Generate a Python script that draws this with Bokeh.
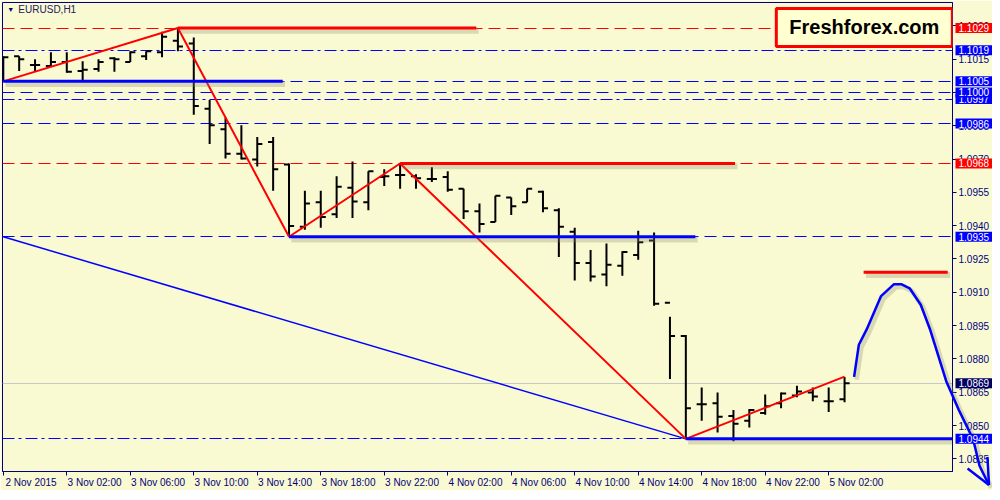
from bokeh.plotting import figure
from bokeh.models import ColumnDataSource, FixedTicker, Label
from bokeh.transform import dodge
from bokeh.embed import file_html
from bokeh.resources import INLINE

# EURUSD H1 bars (bar number, one bar per hour)
bar_x = list(range(54))
bar_open = [1.10106, 1.10163, 1.10124, 1.10119, 1.10137, 1.10097, 1.10106, 1.10154, 1.10137, 1.10163,
            1.10181, 1.10233, 1.10220, 1.09926, 1.09834, 1.09724, 1.09698, 1.09777, 1.09676, 1.09395,
            1.09505, 1.09452, 1.09571, 1.09505, 1.09619, 1.09628, 1.09623, 1.09610, 1.09619, 1.09566,
            1.09465, 1.09417, 1.09527, 1.09505, 1.09553, 1.09470, 1.09373, 1.09232, 1.09180, 1.09219,
            1.09268, 1.09333, 1.09053, 1.08903, 1.08596, 1.08600, 1.08543, 1.08521, 1.08556, 1.08600,
            1.08635, 1.08649, 1.08609, 1.08618]
bar_high = [1.10163, 1.10163, 1.10150, 1.10181, 1.10181, 1.10141, 1.10150, 1.10159, 1.10185, 1.10185,
            1.10273, 1.10290, 1.10247, 1.09966, 1.09887, 1.09852, 1.09799, 1.09799, 1.09680, 1.09557,
            1.09557, 1.09623, 1.09689, 1.09645, 1.09654, 1.09680, 1.09632, 1.09663, 1.09645, 1.09566,
            1.09500, 1.09535, 1.09527, 1.09566, 1.09557, 1.09478, 1.09391, 1.09290, 1.09320, 1.09285,
            1.09377, 1.09369, 1.08990, 1.08908, 1.08671, 1.08649, 1.08570, 1.08574, 1.08640, 1.08649,
            1.08679, 1.08671, 1.08671, 1.08719]
bar_low = [1.10049, 1.10097, 1.10093, 1.10115, 1.10089, 1.10053, 1.10093, 1.10093, 1.10137, 1.10146,
           1.10159, 1.10185, 1.09900, 1.09768, 1.09702, 1.09698, 1.09667, 1.09557, 1.09350, 1.09382,
           1.09391, 1.09434, 1.09434, 1.09470, 1.09579, 1.09566, 1.09566, 1.09597, 1.09553, 1.09430,
           1.09369, 1.09417, 1.09448, 1.09505, 1.09461, 1.09259, 1.09153, 1.09149, 1.09127, 1.09175,
           1.09246, 1.09039, 1.08710, 1.08440, 1.08521, 1.08469, 1.08429, 1.08491, 1.08548, 1.08578,
           1.08627, 1.08609, 1.08561, 1.08605]
bar_close = [1.10159, 1.10150, 1.10124, 1.10137, 1.10093, 1.10102, 1.10137, 1.10150, 1.10181, 1.10185,
             1.10251, 1.10207, 1.09939, 1.09852, 1.09724, 1.09702, 1.09768, 1.09654, 1.09399, 1.09500,
             1.09439, 1.09575, 1.09509, 1.09645, 1.09623, 1.09628, 1.09614, 1.09610, 1.09562, 1.09465,
             1.09408, 1.09535, 1.09487, 1.09566, 1.09478, 1.09395, 1.09232, 1.09171, 1.09224, 1.09281,
             1.09325, 1.09048, 1.08903, 1.08578, 1.08596, 1.08539, 1.08508, 1.08570, 1.08587, 1.08644,
             1.08653, 1.08631, 1.08609, 1.08690]

time_ticks = [0, 4, 8, 12, 16, 20, 24, 28, 32, 36, 40, 44, 48, 52]
time_labels = ["2 Nov 2015", "3 Nov 02:00", "3 Nov 06:00", "3 Nov 10:00", "3 Nov 14:00",
               "3 Nov 18:00", "3 Nov 22:00", "4 Nov 02:00", "4 Nov 06:00", "4 Nov 10:00",
               "4 Nov 14:00", "4 Nov 18:00", "4 Nov 22:00", "5 Nov 02:00"]
price_ticks = [1.0835, 1.0850, 1.0865, 1.0880, 1.0895, 1.0910, 1.0925, 1.0940,
               1.0955, 1.0970, 1.0985, 1.1000, 1.1015, 1.1030]

# horizontal levels across the chart
span_price = [1.1029, 1.1019, 1.1005, 1.1000, 1.0997, 1.0986, 1.0968, 1.0935, 1.0844, 1.0869]
span_color = ["#ff0000", "#0000ff", "#0000ff", "#0000ff", "#0000ff", "#0000ff", "#ff0000",
              "#0000ff", "#0000ff", "#c8c8c8"]
span_dash = ["12 6", "12 4 3 4", "12 6", "12 6", "12 4 3 4", "12 6", "12 6", "12 6",
             "12 4 3 4", "solid"]

# price labels on the scale
tag_price = [1.1029, 1.1019, 1.1005, 1.0997, 1.1000, 1.0986, 1.0968, 1.0935, 1.0869, 1.0844]
tag_text = ["1.1029", "1.1019", "1.1005", "1.0997", "1.1000", "1.0986", "1.0968", "1.0935",
            "1.0869", "1.0944"]
tag_color = ["#ff0000", "#0000ff", "#0000ff", "#0000ff", "#0000ff", "#0000ff", "#ff0000",
             "#0000ff", "#000060", "#0000ff"]

# thick support / resistance segments
seg_x0 = [11, 25, 0, 18, 43, 54.2]
seg_x1 = [29.8, 46.1, 17.6, 43.6, 59.8, 59.5]
seg_y = [1.1029, 1.0968, 1.1005, 1.0935, 1.0844, 1.0919]
seg_color = ["#ff0000", "#ff0000", "#0000ff", "#0000ff", "#0000ff", "#ff0000"]

# zigzag
zz_x = [0, 11, 18, 25, 43, 53]
zz_y = [1.1005, 1.1029, 1.0935, 1.0968, 1.0844, 1.0872]

# long blue trend line
tl_x = [0, 43]
tl_y = [1.0935, 1.0844]

# forecast curve and its arrow head
fc_x = [53.6, 53.9, 54.4, 55.3, 56.1, 56.6, 57.1, 57.8, 58.4, 59.4, 60.2, 61.1, 61.5, 62.1]
fc_y = [1.08719, 1.08864, 1.08934, 1.09083, 1.09136, 1.09136, 1.09118, 1.09044, 1.08930,
        1.08701, 1.08570, 1.08438, 1.08319, 1.08232]
head_xs = [[60.75, 62.1], [62.0, 62.1]]
head_ys = [[1.08306, 1.08232], [1.08359, 1.08232]]

BG = "#fafad2"
NAVY = "#000080"

p = figure(width=992, height=490, x_range=(-0.05, 59.8), y_range=(1.08293, 1.10405),
           y_axis_location="right", toolbar_location=None, output_backend="svg",
           background_fill_color=BG, border_fill_color=BG,
           min_border_left=2, min_border_top=2, min_border_right=2, min_border_bottom=2)
p.grid.visible = False
p.outline_line_color = NAVY

for ax in (p.xaxis[0], p.yaxis[0]):
    ax.axis_line_color = NAVY
    ax.major_tick_line_color = NAVY
    ax.minor_tick_line_color = None
    ax.major_tick_in = 0
    ax.major_tick_out = 4
    ax.major_label_text_color = NAVY
    ax.major_label_text_font = "Liberation Sans"
    ax.major_label_text_font_size = "10px"
    ax.major_label_standoff = 2

# time labels sit to the right of their tick, as in the terminal
label_pos = [t + 1.75 for t in time_ticks]
p.xaxis.ticker = FixedTicker(ticks=label_pos, minor_ticks=time_ticks)
p.xaxis.major_label_overrides = {t: s for t, s in zip(label_pos, time_labels)}
p.xaxis.major_tick_line_color = None
p.xaxis.minor_tick_line_color = NAVY
p.xaxis.minor_tick_in = 0
p.xaxis.minor_tick_out = 4
p.xaxis.major_label_standoff = 1
p.yaxis.ticker = FixedTicker(ticks=price_ticks)
p.yaxis.major_label_overrides = {t: "%.4f" % t for t in price_ticks}

for y, c, d in zip(span_price, span_color, span_dash):
    p.hspan(y=[y], line_color=c, line_width=1, line_dash=d)

# bars
bars = ColumnDataSource(dict(x=bar_x, o=bar_open, h=bar_high, l=bar_low, c=bar_close))
p.segment(x0="x", x1="x", y0="l", y1="h", source=bars, line_color="black", line_width=2)
p.segment(x0=dodge("x", -0.32), x1="x", y0="o", y1="o", source=bars, line_color="black", line_width=2)
p.segment(x0="x", x1=dodge("x", 0.32), y0="c", y1="c", source=bars, line_color="black", line_width=2)

# trend line and zigzag
p.line(tl_x, tl_y, line_color="#0000ff", line_width=1.5)
p.line(zz_x, zz_y, line_color="#ff0000", line_width=2)

# thick levels with a soft shadow
segs = ColumnDataSource(dict(x0=seg_x0, x1=seg_x1, y=seg_y, c=seg_color))
p.segment(x0=dodge("x0", 0.15), x1=dodge("x1", 0.15), y0=dodge("y", -0.00012), y1=dodge("y", -0.00012),
          source=segs, line_color="#8a8a6a", line_alpha=0.3, line_width=6)
p.segment(x0="x0", x1="x1", y0="y", y1="y", source=segs, line_color="c", line_width=3)

# forecast curve (allowed past the frame)
fc = ColumnDataSource(dict(x=fc_x, y=fc_y))
p.line(x=dodge("x", 0.15), y=dodge("y", -0.00012), source=fc, line_color="#8a8a6a", line_alpha=0.3,
       line_width=5, level="overlay")
p.line("x", "y", source=fc, line_color="#0000ff", line_width=2.5, level="overlay")
p.multi_line(head_xs, head_ys, line_color="#0000ff", line_width=2.5, level="overlay")

# price tags on the scale
tags = ColumnDataSource(dict(y=tag_price, t=tag_text, c=tag_color))
p.text(x=59.8, y="y", text="t", source=tags, x_offset=3, text_color="white",
       text_font={"value": "Liberation Sans"}, text_font_size="10px",
       text_align="left", text_baseline="middle",
       background_fill_color="c", padding=(3, 1), level="overlay")

# symbol caption
p.add_layout(Label(x=0.25, y=1.10375, text="\u25bc", text_color=NAVY, text_font_size="7px",
                   text_baseline="middle"))
p.add_layout(Label(x=0.95, y=1.10375, text="EURUSD,H1", text_color="#202060",
                   text_font="Liberation Sans", text_font_size="10px", text_baseline="middle"))

# logo box
p.add_layout(Label(x=48.7, y=1.10378, x_offset=4, y_offset=-4, text="Freshforex.com",
                   text_alpha=0, text_font="Liberation Sans", text_font_size="20px",
                   text_font_style="bold", text_baseline="top", padding=(13, 8),
                   background_fill_color="#9a9a7a", background_fill_alpha=0.5))
p.add_layout(Label(x=48.7, y=1.10378, text="Freshforex.com", text_color="black",
                   text_font="Liberation Sans", text_font_size="20px", text_font_style="bold",
                   text_baseline="top", padding=(13, 8), background_fill_color="#ffffd0",
                   border_line_color="#ff0000", border_line_width=3))

open("out.html", "w").write(file_html(p, INLINE))
